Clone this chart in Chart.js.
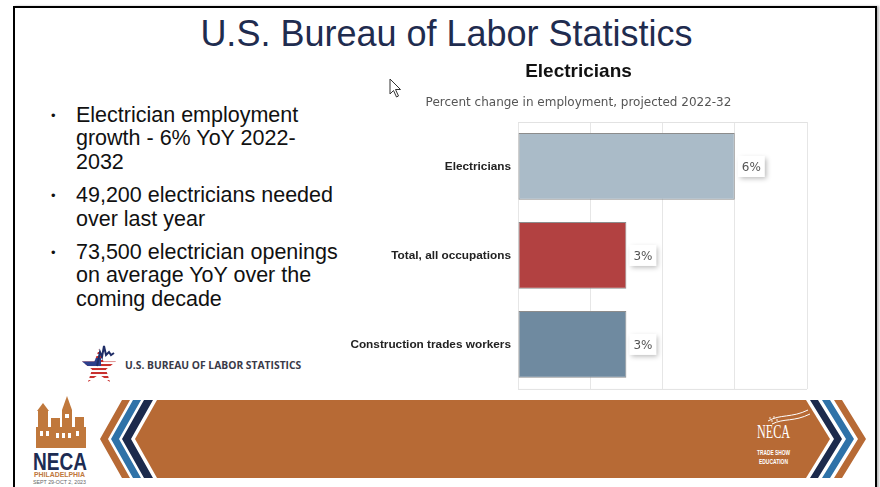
<!DOCTYPE html>
<html>
<head>
<meta charset="utf-8">
<script src="https://cdn.jsdelivr.net/npm/chart.js@4.4.1/dist/chart.umd.min.js"></script>
<style>
  html, body { margin: 0; padding: 0; background: #fff; }
  body { width: 880px; height: 487px; position: relative; overflow: hidden; font-family: "Liberation Sans", Arial, sans-serif; }
  .frame { position: absolute; left: 13px; top: 6px; width: 864px; height: 520px; border: 2px solid #000; box-sizing: border-box; box-shadow: 2px 0 2px #bbb; }
  .title { position: absolute; left: 0; width: 893px; top: 13px; text-align: center; font-size: 36px; color: #1f2c4f; white-space: nowrap; }
  .bullet { position: absolute; left: 76px; font-size: 21.5px; line-height: 23.5px; color: #111; white-space: nowrap; }
  .bullet::before { content: "\2022"; position: absolute; left: -25px; font-size: 13px; top: 0; }
  .bls { position: absolute; left: 125px; top: 358px; font-family: "Open Sans", sans-serif; font-weight: 700; font-size: 10.3px; color: #3a3a48; white-space: nowrap; }
  #deco { position: absolute; left: 0; top: 0; }
  .chartBox { position: absolute; left: 340px; top: 55px; width: 475px; height: 348px; }
</style>
</head>
<body>
<div class="frame"></div>
<svg id="deco" width="880" height="487" viewBox="0 0 880 487">
  <!-- banner -->
  <polygon points="157,400 806,400 830,439 806,478 157,478 135,439" fill="#b76a35"/>
  <polygon points="122,400 130,400 108,439 130,478 122,478 100,439" fill="#b76a35"/>
  <polygon points="133,400 141,400 119,439 141,478 133,478 111,439" fill="#2f72a8"/>
  <polygon points="144,400 153,400 131,439 153,478 144,478 122,439" fill="#1c2a4c"/>
  <polygon points="810,400 818,400 842,439 818,478 810,478 834,439" fill="#1c2a4c"/>
  <polygon points="822,400 830,400 854,439 830,478 822,478 846,439" fill="#2f72a8"/>
  <polygon points="834,400 842,400 866,439 842,478 834,478 858,439" fill="#b76a35"/>
  <!-- left NECA logo -->
  <g fill="#c0783c">
    <rect x="36" y="427" width="50" height="21"/>
    <rect x="38" y="411" width="10" height="16"/>
    <polygon points="37,411 43,403 49,411"/>
    <rect x="62" y="410" width="10" height="17"/>
    <polygon points="62,410 67,396 72,410"/>
    <rect x="51" y="418" width="9" height="9"/>
    <rect x="75" y="417" width="9" height="10"/>
  </g>
  <g fill="#fff">
    <rect x="40" y="431" width="3" height="5"/><rect x="46" y="431" width="3" height="5"/>
    <rect x="56" y="433" width="3" height="5"/><rect x="62" y="433" width="3" height="5"/>
    <rect x="68" y="433" width="3" height="5"/><rect x="76" y="431" width="3" height="5"/>
    <rect x="65" y="414" width="4" height="4"/>
  </g>
  <text x="33" y="470" font-family="Liberation Sans" font-weight="700" font-size="23" fill="#1d2c52" textLength="54" lengthAdjust="spacingAndGlyphs">NECA</text>
  <text x="34" y="477" font-family="Liberation Sans" font-weight="700" font-size="7" fill="#c0783c" textLength="51" lengthAdjust="spacingAndGlyphs">PHILADELPHIA</text>
  <text x="33" y="484" font-family="Liberation Sans" font-size="5" fill="#666" textLength="53" lengthAdjust="spacingAndGlyphs">SEPT 29-OCT 2, 2023</text>
  <!-- right NECA logo -->
  <path d="M768,421 C780,414 792,418 808,410" stroke="#fff" stroke-width="1" fill="none"/>
  <path d="M772,424 C784,418 794,422 810,414" stroke="#fff" stroke-width="1" fill="none"/>
  <g fill="#fff"><circle cx="770" cy="418" r="0.8"/><circle cx="774" cy="417" r="0.8"/><circle cx="772" cy="421" r="0.8"/><circle cx="777" cy="420" r="0.8"/></g>
  <text x="757" y="438" font-family="Liberation Serif" font-size="18" fill="#fff" textLength="33" lengthAdjust="spacingAndGlyphs">NECA</text>
  <text x="757" y="455" font-family="Liberation Sans" font-weight="700" font-size="7" fill="#fff" textLength="33" lengthAdjust="spacingAndGlyphs">TRADE SHOW</text>
  <text x="759" y="464" font-family="Liberation Sans" font-weight="700" font-size="7" fill="#fff" textLength="29" lengthAdjust="spacingAndGlyphs">EDUCATION</text>
  <!-- BLS star -->
  <defs>
    <pattern id="stripes" width="4" height="4" patternUnits="userSpaceOnUse">
      <rect width="4" height="2.2" fill="#c8302e"/><rect y="2.2" width="4" height="1.8" fill="#fff"/>
    </pattern>
    <clipPath id="starClip"><polygon points="99,349 103.5,361.5 116,361.5 106,369.5 110,382 99,374.5 88,382 92,369.5 82,361.5 94.5,361.5"/></clipPath>
  </defs>
  <polygon points="99,349 103.5,361.5 116,361.5 106,369.5 110,382 99,374.5 88,382 92,369.5 82,361.5 94.5,361.5" fill="url(#stripes)"/>
  <rect x="80" y="358" width="21" height="8" fill="#2b3f8c" clip-path="url(#starClip)"/>
  <path d="M97,366 L100,352 L102,357 L104,346 L106,355 L109,352 L111,355 L114,353" stroke="#1f2d66" stroke-width="2" fill="none"/>
  <!-- cursor -->
  <path d="M390,79 L390,94 L393.5,90.5 L396.5,97 L398.5,96 L395.5,89.5 L400.5,89.5 Z" fill="#fff" stroke="#333" stroke-width="1"/>
</svg>

<div class="title">U.S. Bureau of Labor Statistics</div>
<div class="bullet" style="top:103.8px">Electrician employment<br>growth - 6% YoY 2022-<br>2032</div>
<div class="bullet" style="top:184.1px">49,200 electricians needed<br>over last year</div>
<div class="bullet" style="top:240.8px">73,500 electrician openings<br>on average YoY over the<br>coming decade</div>
<div class="bls">U.S. BUREAU OF LABOR STATISTICS</div>

<div class="chartBox"><canvas id="chart"></canvas></div>

<script>
const categories = ['Electricians', 'Total, all occupations', 'Construction trades workers'];
const percentChange = [6, 3, 3];
const barColors = ['#aabbc8', '#b24141', '#6f8aa0'];
const xTicks = [0, 2, 4, 6, 8];

// thin lines across top and bottom of the plot, like the BLS chart
const frameLines = {
  id: 'frameLines',
  beforeDatasetsDraw(chart) {
    const { ctx, chartArea } = chart;
    ctx.save();
    ctx.strokeStyle = '#e2e2e2';
    ctx.lineWidth = 1;
    ctx.beginPath();
    ctx.moveTo(chartArea.left, chartArea.top + 0.5);
    ctx.lineTo(chartArea.right, chartArea.top + 0.5);
    ctx.moveTo(chartArea.left, chartArea.bottom + 0.5);
    ctx.lineTo(chartArea.right, chartArea.bottom + 0.5);
    ctx.stroke();
    ctx.restore();
  }
};

// white boxes with a soft shadow holding the value
const valueBoxes = {
  id: 'valueBoxes',
  afterDatasetsDraw(chart) {
    const { ctx } = chart;
    const meta = chart.getDatasetMeta(0);
    ctx.save();
    ctx.font = '12px "DejaVu Sans", sans-serif';
    meta.data.forEach((bar, i) => {
      const text = percentChange[i] + '%';
      const w = ctx.measureText(text).width + 8;
      const h = 21;
      const x = bar.x + 3;
      const y = bar.y - h / 2;
      ctx.shadowColor = 'rgba(0,0,0,0.28)';
      ctx.shadowBlur = 5;
      ctx.shadowOffsetX = 2;
      ctx.shadowOffsetY = 2;
      ctx.fillStyle = '#fff';
      ctx.fillRect(x, y, w, h);
      ctx.shadowColor = 'transparent';
      ctx.fillStyle = '#555';
      ctx.textAlign = 'center';
      ctx.textBaseline = 'middle';
      ctx.fillText(text, x + w / 2, bar.y + 1);
    });
    ctx.restore();
  }
};

new Chart(document.getElementById('chart').getContext('2d'), {
  type: 'bar',
  data: {
    labels: categories,
    datasets: [{
      data: percentChange,
      backgroundColor: barColors,
      borderColor: '#8c8c8c',
      borderWidth: 1,
      borderSkipped: false,
      categoryPercentage: 1,
      barPercentage: 0.75
    }]
  },
  options: {
    indexAxis: 'y',
    responsive: true,
    maintainAspectRatio: false,
    animation: false,
    layout: { padding: { left: 10, right: 8, bottom: 7 } },
    plugins: {
      legend: { display: false },
      tooltip: { enabled: false },
      title: {
        display: true,
        text: 'Electricians',
        color: '#111',
        font: { family: 'Liberation Sans', size: 19, weight: 'bold' },
        padding: { top: 5, bottom: 10 }
      },
      subtitle: {
        display: true,
        text: 'Percent change in employment, projected 2022-32',
        color: '#555',
        font: { family: 'DejaVu Sans', size: 12 },
        padding: { top: 2.5, bottom: 12.3 }
      }
    },
    scales: {
      x: {
        min: xTicks[0],
        max: xTicks[xTicks.length - 1],
        afterBuildTicks: (scale) => { scale.ticks = xTicks.map(v => ({ value: v })); },
        ticks: { display: false },
        grid: { color: '#e6e6e6', drawTicks: false },
        border: { display: false }
      },
      y: {
        afterFit: (scale) => { scale.width = 168; },
        ticks: {
          color: '#222',
          padding: 7,
          font: { family: 'Liberation Sans', size: 11.8, weight: 'bold' }
        },
        grid: { display: false, drawTicks: false },
        border: { display: false }
      }
    }
  },
  plugins: [frameLines, valueBoxes]
});
</script>
</body>
</html>
